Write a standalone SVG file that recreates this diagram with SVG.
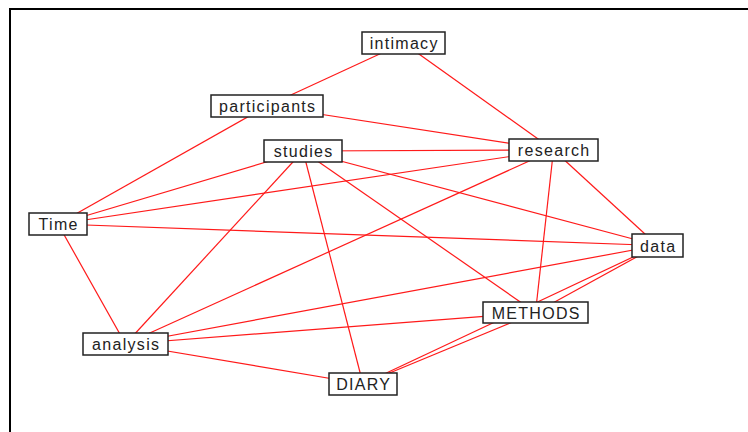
<svg xmlns="http://www.w3.org/2000/svg" width="748" height="432" viewBox="0 0 748 432">
  <style>
    .edge { stroke: #ff1a1a; stroke-width: 1.2; fill: none; }
    .box { fill: #ffffff; stroke: #222222; stroke-width: 1.5; }
    .lbl { font-family: "Liberation Sans", Arial, sans-serif; font-size: 16px; letter-spacing: 1.3px; fill: #222222; text-anchor: middle; }
  </style>

  <rect x="0" y="0" width="748" height="432" fill="#ffffff"/>
  <!-- outer frame: only top and left sides are inside the canvas -->
  <path d="M10 432 V9 H748" fill="none" stroke="#000000" stroke-width="2"/>

  <g id="connectors">
    <line class="edge" x1="403.5" y1="43" x2="267" y2="106"/>
    <line class="edge" x1="403.5" y1="43" x2="553.5" y2="150"/>
    <line class="edge" x1="267" y1="106" x2="553.5" y2="150"/>
    <line class="edge" x1="267" y1="106" x2="58" y2="224"/>
    <line class="edge" x1="303" y1="151" x2="553.5" y2="150"/>
    <line class="edge" x1="303" y1="151" x2="58" y2="224"/>
    <line class="edge" x1="303" y1="151" x2="125.5" y2="344"/>
    <line class="edge" x1="303" y1="151" x2="363" y2="384"/>
    <line class="edge" x1="303" y1="151" x2="535.5" y2="312.5"/>
    <line class="edge" x1="303" y1="151" x2="657.5" y2="245.5"/>
    <line class="edge" x1="553.5" y1="150" x2="58" y2="224"/>
    <line class="edge" x1="553.5" y1="150" x2="125.5" y2="344"/>
    <line class="edge" x1="553.5" y1="150" x2="657.5" y2="245.5"/>
    <line class="edge" x1="553.5" y1="150" x2="535.5" y2="312.5"/>
    <line class="edge" x1="58" y1="224" x2="657.5" y2="245.5"/>
    <line class="edge" x1="58" y1="224" x2="125.5" y2="344"/>
    <line class="edge" x1="125.5" y1="344" x2="657.5" y2="245.5"/>
    <line class="edge" x1="125.5" y1="344" x2="535.5" y2="312.5"/>
    <line class="edge" x1="125.5" y1="344" x2="363" y2="384"/>
    <line class="edge" x1="657.5" y1="245.5" x2="535.5" y2="312.5"/>
    <line class="edge" x1="657.5" y1="245.5" x2="363" y2="384"/>
    <line class="edge" x1="535.5" y1="312.5" x2="363" y2="384"/>
  </g>

  <g id="intimacy">
    <rect class="box" x="362" y="32" width="83" height="22"/>
    <text class="lbl" x="404.2" y="49">intimacy</text>
  </g>
  <g id="participants">
    <rect class="box" x="211" y="95" width="112" height="22"/>
    <text class="lbl" x="267.7" y="112">participants</text>
  </g>
  <g id="studies">
    <rect class="box" x="264" y="140" width="78" height="22"/>
    <text class="lbl" x="303.7" y="157">studies</text>
  </g>
  <g id="research">
    <rect class="box" x="509" y="139" width="89" height="22"/>
    <text class="lbl" x="554.2" y="156">research</text>
  </g>
  <g id="Time">
    <rect class="box" x="29" y="213" width="58" height="22"/>
    <text class="lbl" x="58.7" y="230">Time</text>
  </g>
  <g id="data">
    <rect class="box" x="632" y="234" width="51" height="23"/>
    <text class="lbl" x="658.2" y="251.5">data</text>
  </g>
  <g id="METHODS">
    <rect class="box" x="483" y="302" width="105" height="21"/>
    <text class="lbl" x="536.2" y="318.5">METHODS</text>
  </g>
  <g id="analysis">
    <rect class="box" x="83" y="333" width="85" height="22"/>
    <text class="lbl" x="126.2" y="350">analysis</text>
  </g>
  <g id="DIARY">
    <rect class="box" x="329" y="373" width="68" height="22"/>
    <text class="lbl" x="363.7" y="390">DIARY</text>
  </g>
</svg>
